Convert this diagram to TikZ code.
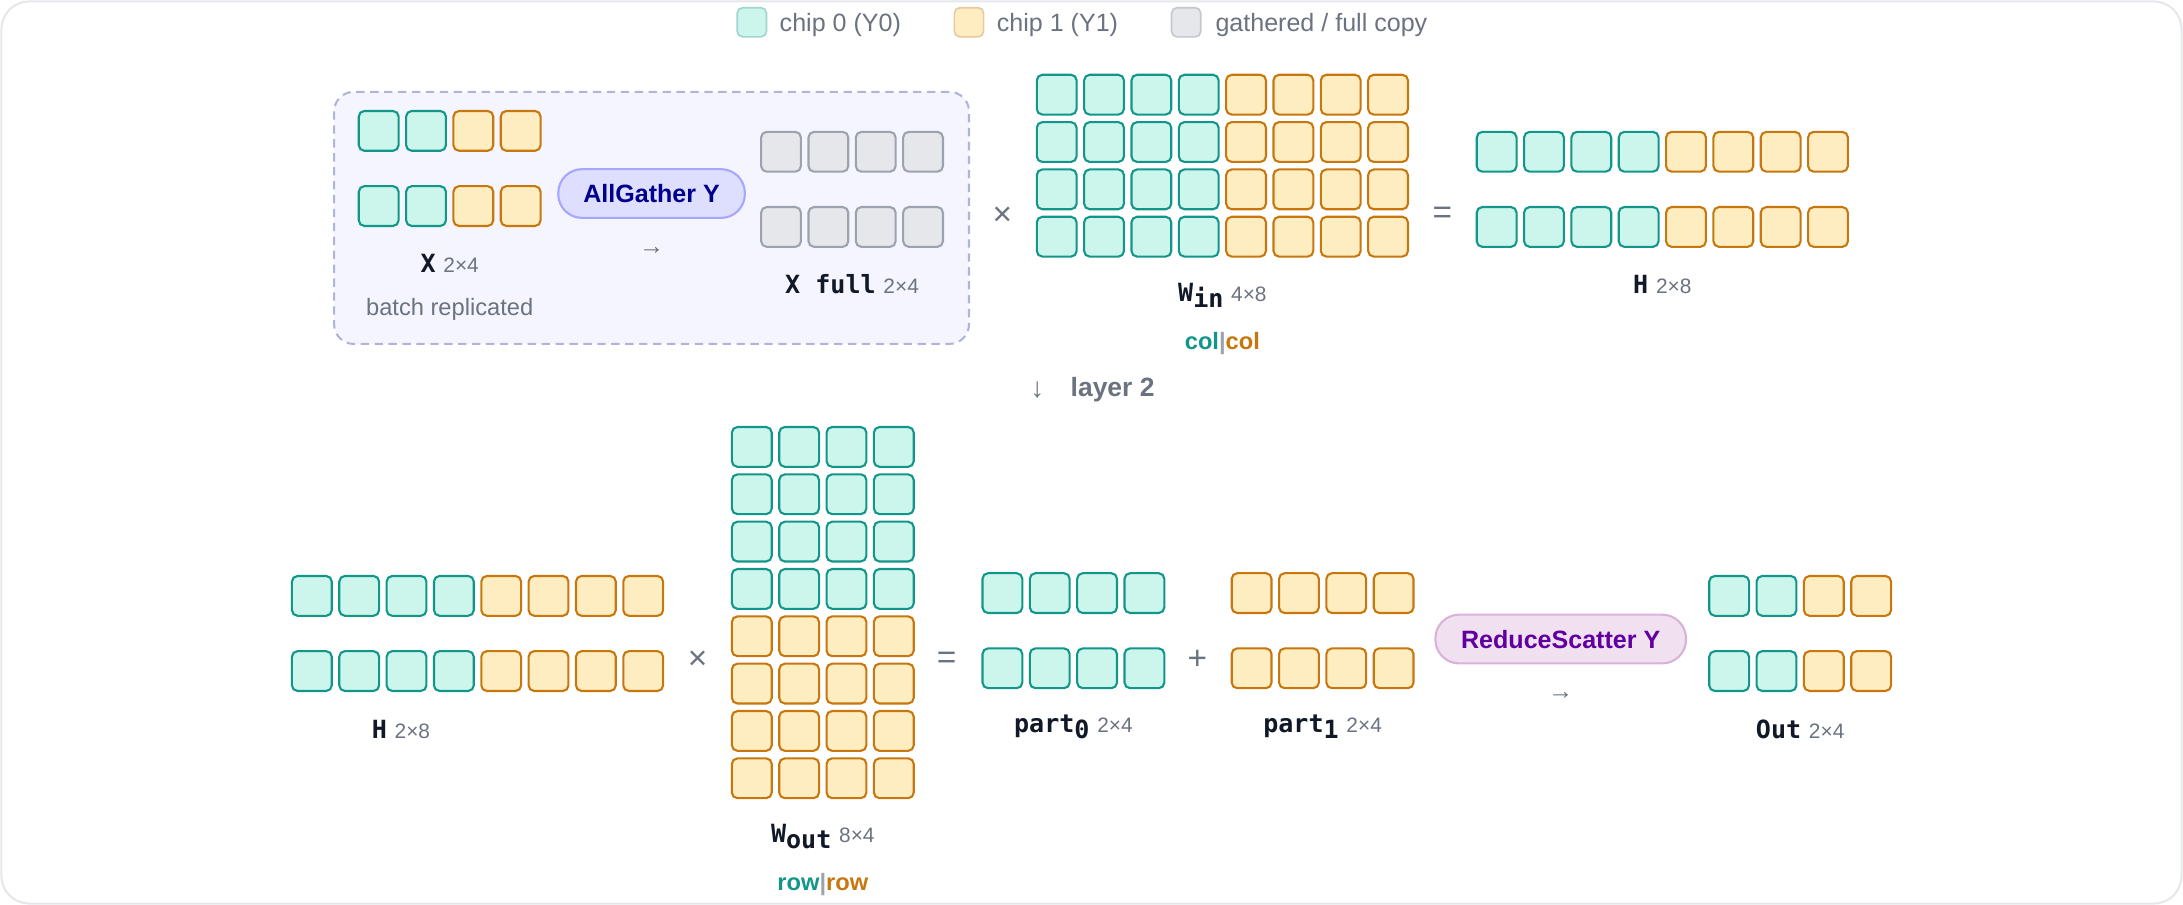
\documentclass[tikz,border=0pt]{standalone}
\usepackage{fontspec}
\setmainfont{Liberation Sans}
\newfontfamily\mono{DejaVu Sans Mono}
\definecolor{tF}{HTML}{CCF5EC}\definecolor{tD}{HTML}{13968A}
\definecolor{yF}{HTML}{FDEDC0}\definecolor{yD}{HTML}{C8770E}
\definecolor{gF}{HTML}{E5E7EB}\definecolor{gD}{HTML}{9CA3AF}
\definecolor{lab}{HTML}{6B7280}\definecolor{ink}{HTML}{111827}
\newcommand\mygrid[9]{%
 \foreach \r in {1,...,#5}{\foreach \c in {1,...,#4}{
  \pgfmathtruncatemacro\yel{(\c>#7)||(\r>#8)}
  \ifnum\yel=1 \def\st{c1}\else\def\st{c0}\fi
  \node[cell,\st,#9] (#1-\r-\c) at ({#2+(\c-1)*34+15},{#3+(\r-1)*#6+15}) {};
 }}}
\newcommand\sub[1]{\raisebox{-0.45ex}{\small #1}}
\newcommand\lbl[2]{{\fontsize{9}{10}\selectfont\mono\bfseries\color{ink}#1}\ {\fontsize{7.5}{9}\selectfont\color{lab}#2}}
\begin{document}
\begin{tikzpicture}[x=0.5pt,y=-0.5pt,
 cell/.style={draw,rounded corners=2pt,line width=0.75pt,minimum size=14.3pt,inner sep=0pt},
 c0/.style={fill=tF,draw=tD}, c1/.style={fill=yF,draw=yD}, cg/.style={fill=gF,draw=gD},
 sw/.style={rounded corners=2pt,line width=0.6pt,minimum size=10.5pt,inner sep=0pt,draw},
 leg/.style={font=\fontsize{9}{10}\selectfont,text=lab,anchor=west},
 op/.style={font=\fontsize{12}{12}\selectfont,text=lab},
 pill/.style={rounded corners=8.5pt,line width=0.75pt,minimum height=17.5pt,font=\fontsize{9}{10}\selectfont\bfseries}]
\useasboundingbox (0,0) rectangle (1568,650);
\draw[gF,line width=0.75pt,rounded corners=10pt] (1,1) rectangle (1567,649);
% legend
\node[sw,fill=tF,draw=tD!40] (l0) at (540,16) {};
\node[leg] (l0t) at (553,18) {chip 0 (Y0)};
\node[sw,fill=yF,draw=yD!40] (l1) at (696,16) {};
\node[leg] (l1t) at (709,18) {chip 1 (Y1)};
\node[sw,fill=gF,draw=gD!60] (l2) at (852,16) {};
\node[leg] (l2t) at (866,18) {gathered / full copy};
% dashed box
\draw[draw=gD!80!blue!60,fill=blue!4!white,line width=0.75pt,rounded corners=7pt,dash pattern=on 3pt off 2pt] (240,66) rectangle (696,247);
\mygrid{X}{257}{79}{4}{2}{54}{2}{9}{}
\node (Xl) at (323,189) {\lbl{X}{2×4}};
\node[font=\fontsize{8.5}{10}\selectfont,text=lab] (br) at (323,222) {batch replicated};
\node[pill,fill=blue!13!white,draw=blue!35!white,text=blue!55!black,minimum width=67pt] (ag) at (468,139) {AllGather Y};
\node[text=lab,font=\fontsize{9}{9}\selectfont] (aga) at (468,180) {→};
\mygrid{XF}{546}{94}{4}{2}{54}{9}{9}{cg}
\node (XFl) at (612,204) {\lbl{X full}{2×4}};
\node[op] (m1) at (720,155) {×};
\mygrid{W}{744}{53}{8}{4}{34}{4}{9}{}
\node (Wl) at (878,212) {\lbl{W\sub{in}}{4×8}};
\node[font=\fontsize{8.5}{10}\selectfont\bfseries] (Wc) at (878,247) {\textcolor{tD}{col}\textcolor{gD}{|}\textcolor{yD}{col}};
\node[op] (e1) at (1036,155) {=};
\mygrid{H}{1060}{94}{8}{2}{54}{4}{9}{}
\node (Hl) at (1194,204) {\lbl{H}{2×8}};
% layer 2
\node[text=lab,font=\fontsize{10}{10}\selectfont] (dn) at (745,280) {↓};
\node[text=lab,font=\fontsize{9.5}{10}\selectfont\bfseries,anchor=west] (l2l) at (762,280) {layer 2};
% bottom
\mygrid{HB}{209}{413}{8}{2}{54}{4}{9}{}
\node (HBl) at (288,524) {\lbl{H}{2×8}};
\node[op] (m2) at (501,474) {×};
\mygrid{WO}{525}{306}{4}{8}{34}{9}{4}{}
\node (WOl) at (591,601) {\lbl{W\sub{out}}{8×4}};
\node[font=\fontsize{8.5}{10}\selectfont\bfseries] (WOc) at (591,635) {\textcolor{tD}{row}\textcolor{gD}{|}\textcolor{yD}{row}};
\node[op] (e2) at (680,474) {=};
\mygrid{P}{705}{411}{4}{2}{54}{9}{9}{}
\node (Pl) at (771,522) {\lbl{part\sub{0}}{2×4}};
\node[op] (pl) at (860,474) {+};
\mygrid{Q}{884}{411}{4}{2}{54}{0}{9}{}
\node (Ql) at (950,522) {\lbl{part\sub{1}}{2×4}};
\node[pill,fill=violet!12!white,draw=violet!30!white,text=violet!75!blue,minimum width=90pt] (rs) at (1121,459) {ReduceScatter Y};
\node[text=lab,font=\fontsize{9}{9}\selectfont] (rsa) at (1121,500) {→};
\mygrid{O}{1227}{413}{4}{2}{54}{2}{9}{}
\node (Ol) at (1293,524) {\lbl{Out}{2×4}};
\end{tikzpicture}
\end{document}
